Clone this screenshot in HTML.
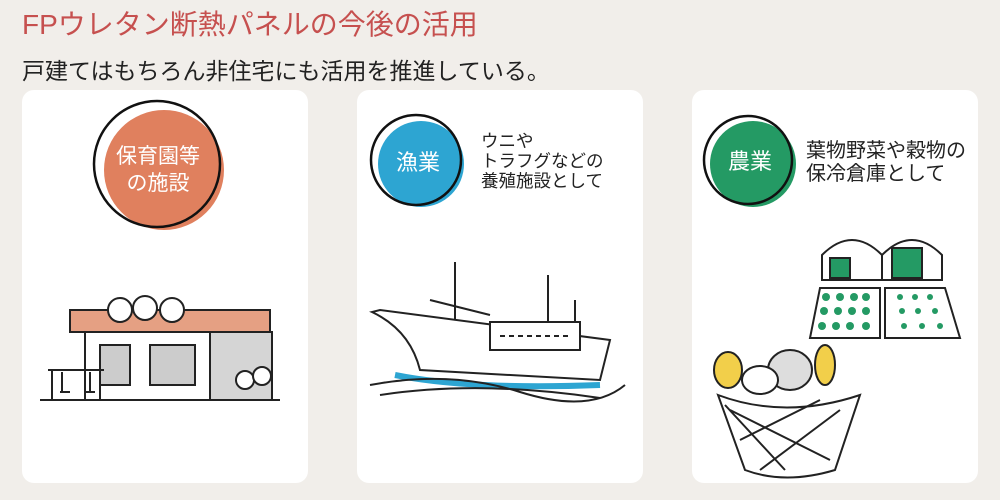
<!DOCTYPE html>
<html><head><meta charset="utf-8"><style>
body{margin:0;width:1000px;height:500px;background:#f1eeea;position:relative;overflow:hidden;font-family:"Liberation Sans","Noto Sans CJK JP",sans-serif}
.t{position:absolute;left:22px;top:3px;font-size:28px;color:#c6504f;letter-spacing:0px;white-space:nowrap}
.s{position:absolute;left:22px;top:52px;font-size:23px;color:#222;white-space:nowrap}
.c{position:absolute;top:90px;width:286px;height:393px;background:#fff;border-radius:12px}
svg{position:absolute;left:0;top:0}
.lb{position:absolute;font-size:17px;color:#222;line-height:20px;white-space:nowrap}
</style></head><body>
<div class="t">FPウレタン断熱パネルの今後の活用</div>
<div class="s">戸建てはもちろん非住宅にも活用を推進している。</div>
<div class="c" style="left:22px"></div>
<div class="c" style="left:357px"></div>
<div class="c" style="left:692px"></div>
<svg width="1000" height="500" font-family="Liberation Sans, Noto Sans CJK JP, sans-serif">
<circle cx="164" cy="170" r="60" fill="#e0805e"/>
<circle cx="157" cy="164" r="63" fill="none" stroke="#111" stroke-width="2.5"/>
<text x="158" y="163" font-size="21" fill="#fff" text-anchor="middle">保育園等</text>
<text x="158" y="190" font-size="21" fill="#fff" text-anchor="middle">の施設</text>
<circle cx="421" cy="164" r="43" fill="#2da5d2"/>
<circle cx="416" cy="160" r="45" fill="none" stroke="#111" stroke-width="2.5"/>
<text x="418" y="170" font-size="22" fill="#fff" text-anchor="middle">漁業</text>
<circle cx="753" cy="164" r="43" fill="#249a64"/>
<circle cx="748" cy="160" r="44" fill="none" stroke="#111" stroke-width="2.5"/>
<text x="750" y="169" font-size="22" fill="#fff" text-anchor="middle">農業</text>
<g stroke="#222" stroke-width="2" fill="none">
<rect x="70" y="310" width="200" height="22" fill="#e5a083"/>
<rect x="210" y="332" width="62" height="68" fill="#d5d5d5"/>
<rect x="85" y="332" width="125" height="68" fill="#fff"/>
<rect x="100" y="345" width="30" height="40" fill="#ccc"/>
<rect x="150" y="345" width="45" height="40" fill="#ccc"/>
<circle cx="120" cy="310" r="12" fill="#fff"/><circle cx="145" cy="308" r="12" fill="#fff"/><circle cx="172" cy="310" r="12" fill="#fff"/>
<path d="M48 370h56M52 370v30M100 370v30M62 372v20M90 372v20"/>
<path d="M60 392h10M85 392h10"/>
<circle cx="245" cy="380" r="9" fill="#fff"/><circle cx="262" cy="376" r="9" fill="#fff"/>
<path d="M40 400h240"/>
</g>
<g stroke="#222" stroke-width="2" fill="none">
<path d="M455 262v60M548 275v55M575 300v30M430 300l60 15"/>
<path d="M372 312 Q410 330 420 370 L600 380 L610 340 L380 310z" fill="#fff"/>
<rect x="490" y="322" width="90" height="28" fill="#fff"/>
<path d="M500 336h70" stroke-dasharray="5 4"/>
<path d="M395 375 Q470 390 600 385" stroke="#2da5d2" stroke-width="6"/>
<path d="M370 385 Q450 370 520 392 T625 385M380 395 Q480 380 600 398"/>
</g>
<g stroke="#222" stroke-width="2" fill="none">
<path d="M822 280v-25 q30 -30 60 0 v25zM882 280v-25 q30 -30 60 0 v25z" fill="#fff"/>
<rect x="830" y="258" width="20" height="20" fill="#249a64"/><rect x="892" y="248" width="30" height="30" fill="#249a64"/>
<path d="M820 288h60v50h-70zM885 288h60l15 50h-75z" fill="#fff"/>
</g>
<g fill="#249a64">
<circle cx="826" cy="297" r="4"/><circle cx="840" cy="297" r="4"/><circle cx="854" cy="297" r="4"/><circle cx="866" cy="297" r="4"/>
<circle cx="824" cy="311" r="4"/><circle cx="838" cy="311" r="4"/><circle cx="852" cy="311" r="4"/><circle cx="866" cy="311" r="4"/>
<circle cx="822" cy="326" r="4"/><circle cx="836" cy="326" r="4"/><circle cx="850" cy="326" r="4"/><circle cx="866" cy="326" r="4"/>
<circle cx="900" cy="297" r="3"/><circle cx="915" cy="297" r="3"/><circle cx="930" cy="297" r="3"/>
<circle cx="902" cy="311" r="3"/><circle cx="918" cy="311" r="3"/><circle cx="935" cy="311" r="3"/>
<circle cx="904" cy="326" r="3"/><circle cx="922" cy="326" r="3"/><circle cx="940" cy="326" r="3"/>
</g>
<g stroke="#222" stroke-width="2">
<ellipse cx="728" cy="370" rx="14" ry="18" fill="#f2cf4a"/>
<ellipse cx="790" cy="370" rx="22" ry="20" fill="#ddd"/>
<ellipse cx="825" cy="365" rx="10" ry="20" fill="#f2cf4a"/>
<ellipse cx="760" cy="380" rx="18" ry="14" fill="#fff"/>
<path d="M718 395 Q785 420 860 395 L835 470 Q785 485 745 470z" fill="#fff"/>
<path d="M730 410l100 50M740 440l80-40M760 470l80-60M725 405l60 65" fill="none"/>
</g>
</svg>
<div class="lb" style="left:481px;top:131px;font-size:17.5px">ウニや<br>トラフグなどの<br>養殖施設として</div>
<div class="lb" style="left:806px;top:140px;font-size:20px;line-height:23px">葉物野菜や穀物の<br>保冷倉庫として</div>
</body></html>
